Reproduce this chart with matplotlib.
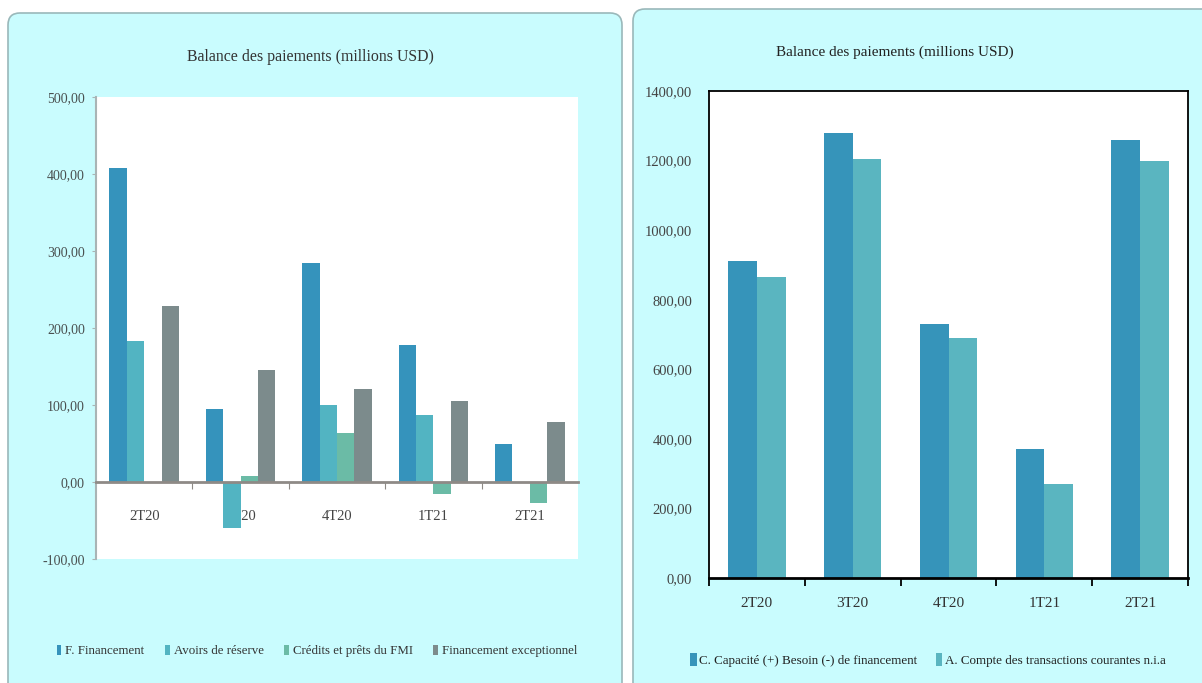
import matplotlib
matplotlib.use('Agg')
import matplotlib.pyplot as plt
import numpy as np
from matplotlib.patches import FancyBboxPatch
from matplotlib.ticker import FuncFormatter, FixedLocator

plt.rcParams['font.family'] = ['Liberation Serif', 'DejaVu Serif']

# data
quarters = ['2T20', '3T20', '4T20', '1T21', '2T21']

left_series = ['F. Financement', 'Avoirs de réserve', 'Crédits et prêts du FMI',
               'Financement exceptionnel']
financement = [408, 95, 285, 178, 50]
avoirs = [183, -60, 100, 87, 0]
credits_fmi = [0, 8, 63, -15, -27]
fin_exceptionnel = [228, 146, 121, 105, 78]

right_series = ['C. Capacité (+) Besoin (-) de financement',
                'A. Compte des transactions courantes n.i.a']
capacite = [910, 1280, 730, 370, 1258]
compte_courant = [865, 1205, 690, 270, 1200]

left_colors = ['#3593BC', '#52B4C2', '#6BBBA6', '#7C8B8C']
right_colors = ['#3694BA', '#5AB5C0']
panel_bg = '#C9FCFE'
title = 'Balance des paiements (millions USD)'


def fr_fmt(v, pos):
    return '{:.2f}'.format(v).replace('.', ',')


W, H = 1202, 683
fig = plt.figure(figsize=(W / 100, H / 100), dpi=100)
fig.patch.set_facecolor('white')

# panel backgrounds (pixel coordinates, origin top-left)
def panel(x0, y0, x1, y1):
    p = FancyBboxPatch((x0 / 100, (H - y1) / 100), (x1 - x0) / 100, (y1 - y0) / 100,
                       boxstyle='round,pad=0,rounding_size=0.12',
                       transform=fig.dpi_scale_trans, facecolor=panel_bg,
                       edgecolor='#9AB8BA', linewidth=1.2, zorder=-10)
    fig.patches.append(p)

panel(8, 13, 622, 700)
panel(633, 9, 1215, 700)

x = np.arange(len(quarters))

# ---- left chart ----
ax1 = fig.add_axes([96 / W, 1 - 559 / H, 482 / W, 462 / H])
ax1.set_facecolor('white')
w = 0.18
for k, vals in enumerate([financement, avoirs, credits_fmi, fin_exceptionnel]):
    ax1.bar(x + (k - 1.5) * w, vals, width=w, color=left_colors[k],
            label=left_series[k], zorder=2)
ax1.set_xlim(-0.5, len(quarters) - 0.5)
ax1.set_ylim(-100, 500)
ax1.set_yticks(np.arange(-100, 501, 100))
ax1.yaxis.set_major_formatter(FuncFormatter(fr_fmt))
for s in ['top', 'right']:
    ax1.spines[s].set_visible(False)
ax1.spines['left'].set_color('#A9B4B5')
ax1.spines['left'].set_linewidth(1.5)
ax1.spines['bottom'].set_position(('data', 0))
ax1.spines['bottom'].set_color('#8E8A86')
ax1.spines['bottom'].set_linewidth(2)
ax1.spines['bottom'].set_zorder(3)
ax1.xaxis.set_major_locator(FixedLocator(np.arange(0.5, len(quarters) - 0.5, 1)))
ax1.xaxis.set_major_formatter(FuncFormatter(lambda v, p: ''))
ax1.xaxis.set_minor_locator(FixedLocator(x))
ax1.set_xticklabels(quarters, minor=True)
ax1.tick_params(axis='x', which='major', length=5, color='#8E8A86', direction='out')
ax1.tick_params(axis='x', which='minor', length=0, pad=20, labelsize=10.5, labelcolor='#444444')
ax1.tick_params(axis='y', length=3, color='#A9B4B5', pad=5, labelsize=10, labelcolor='#4A5050')
fig.text(310 / W, 1 - 57 / H, title, ha='center', va='center', fontsize=11.4, color='#333333')
fig.legend(*ax1.get_legend_handles_labels(), loc='center', bbox_to_anchor=(317 / W, 1 - 651 / H),
           ncol=4, frameon=False, handlelength=0.35, handleheight=0.9, handletextpad=0.3,
           columnspacing=1.6, fontsize=9.3, labelcolor='#333333')

# ---- right chart ----
ax2 = fig.add_axes([709 / W, 1 - 578 / H, 479 / W, 487 / H])
ax2.set_facecolor('white')
w2 = 0.3
ax2.bar(x - w2 / 2, capacite, width=w2, color=right_colors[0], label=right_series[0], zorder=2)
ax2.bar(x + w2 / 2, compte_courant, width=w2, color=right_colors[1], label=right_series[1], zorder=2)
ax2.set_xlim(-0.5, len(quarters) - 0.5)
ax2.set_ylim(0, 1400)
ax2.set_yticks(np.arange(0, 1401, 200))
ax2.yaxis.set_major_formatter(FuncFormatter(fr_fmt))
for s in ax2.spines.values():
    s.set_color('black')
    s.set_linewidth(1.3)
ax2.spines['bottom'].set_linewidth(2)
ax2.xaxis.set_major_locator(FixedLocator(np.arange(-0.5, len(quarters), 1)))
ax2.xaxis.set_major_formatter(FuncFormatter(lambda v, p: ''))
ax2.xaxis.set_minor_locator(FixedLocator(x))
ax2.set_xticklabels(quarters, minor=True)
ax2.tick_params(axis='x', which='major', length=6, width=1.3, color='black', direction='out')
ax2.tick_params(axis='x', which='minor', length=0, pad=14, labelsize=11, labelcolor='#333333')
ax2.tick_params(axis='y', length=0, pad=12, labelsize=10.5, labelcolor='#444444')
fig.text(895 / W, 1 - 52 / H, title, ha='center', va='center', fontsize=11, color='#222222')
fig.legend(*ax2.get_legend_handles_labels(), loc='center', bbox_to_anchor=(928 / W, 1 - 660 / H),
           ncol=2, frameon=False, handlelength=0.5, handleheight=1.1, handletextpad=0.2,
           columnspacing=1.4, fontsize=9.4, labelcolor='#222222')

fig.savefig('out.png', dpi=100)
